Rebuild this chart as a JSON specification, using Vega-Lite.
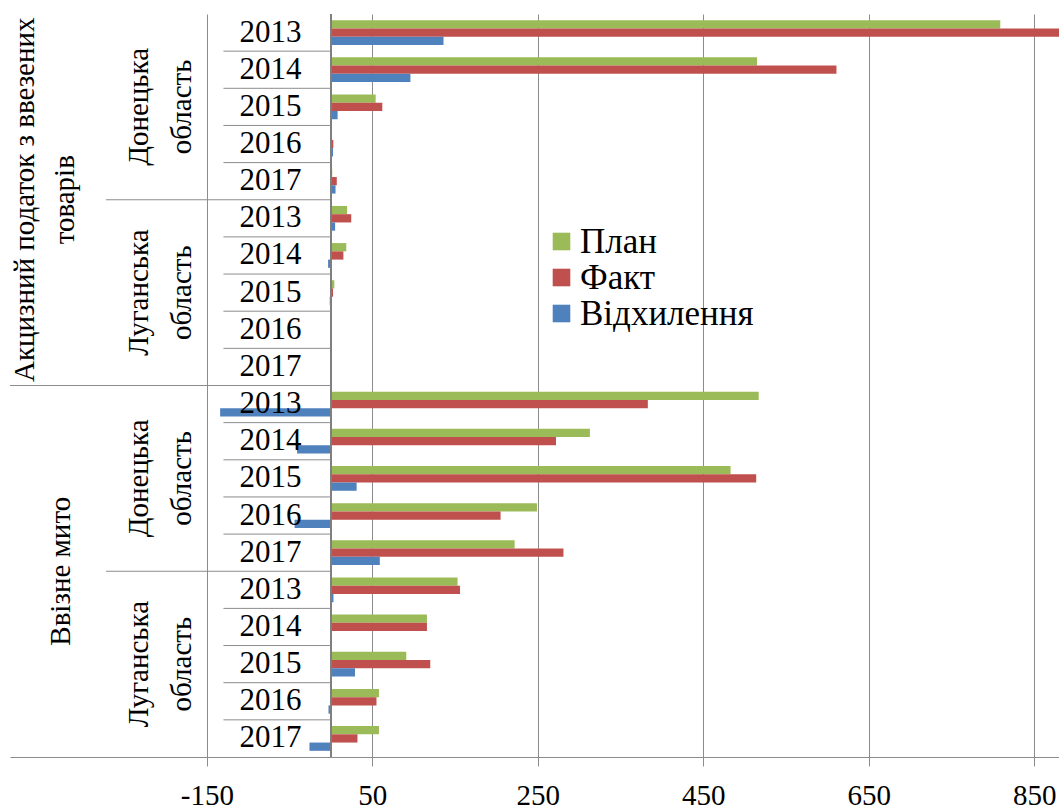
{
  "$schema": "https://vega.github.io/schema/vega-lite/v6.json",
  "width": 1049,
  "height": 743,
  "padding": {"left": 10, "top": 14, "right": 0, "bottom": 52},
  "autosize": {"type": "none"},
  "background": "white",
  "config": {"view": {"stroke": null}, "font": "Liberation Serif"},
  "data": {"values": [
    {"tax": "Акцизний податок з ввезених\nтоварів", "region": "Донецька область", "year": "2013", "key": "АП-Д-2013", "План": 809, "Факт": 945, "Відхилення": 136},
    {"tax": "Акцизний податок з ввезених\nтоварів", "region": "Донецька область", "year": "2014", "key": "АП-Д-2014", "План": 515, "Факт": 611, "Відхилення": 96},
    {"tax": "Акцизний податок з ввезених\nтоварів", "region": "Донецька область", "year": "2015", "key": "АП-Д-2015", "План": 54, "Факт": 62, "Відхилення": 8},
    {"tax": "Акцизний податок з ввезених\nтоварів", "region": "Донецька область", "year": "2016", "key": "АП-Д-2016", "План": 0.3, "Факт": 2.8, "Відхилення": 2.5},
    {"tax": "Акцизний податок з ввезених\nтоварів", "region": "Донецька область", "year": "2017", "key": "АП-Д-2017", "План": 1.5, "Факт": 7, "Відхилення": 5.5},
    {"tax": "Акцизний податок з ввезених\nтоварів", "region": "Луганська область", "year": "2013", "key": "АП-Л-2013", "План": 19.5, "Факт": 24.5, "Відхилення": 5},
    {"tax": "Акцизний податок з ввезених\nтоварів", "region": "Луганська область", "year": "2014", "key": "АП-Л-2014", "План": 18.5, "Факт": 15, "Відхилення": -3.5},
    {"tax": "Акцизний податок з ввезених\nтоварів", "region": "Луганська область", "year": "2015", "key": "АП-Л-2015", "План": 4, "Факт": 2.5, "Відхилення": -1.5},
    {"tax": "Акцизний податок з ввезених\nтоварів", "region": "Луганська область", "year": "2016", "key": "АП-Л-2016", "План": 0, "Факт": 0, "Відхилення": 0},
    {"tax": "Акцизний податок з ввезених\nтоварів", "region": "Луганська область", "year": "2017", "key": "АП-Л-2017", "План": 0, "Факт": 0, "Відхилення": 0},
    {"tax": "Ввізне мито", "region": "Донецька область", "year": "2013", "key": "ВМ-Д-2013", "План": 517, "Факт": 383, "Відхилення": -134},
    {"tax": "Ввізне мито", "region": "Донецька область", "year": "2014", "key": "ВМ-Д-2014", "План": 313, "Факт": 272, "Відхилення": -41},
    {"tax": "Ввізне мито", "region": "Донецька область", "year": "2015", "key": "ВМ-Д-2015", "План": 483, "Факт": 514, "Відхилення": 31},
    {"tax": "Ввізне мито", "region": "Донецька область", "year": "2016", "key": "ВМ-Д-2016", "План": 249, "Факт": 205, "Відхилення": -44},
    {"tax": "Ввізне мито", "region": "Донецька область", "year": "2017", "key": "ВМ-Д-2017", "План": 222, "Факт": 281, "Відхилення": 59},
    {"tax": "Ввізне мито", "region": "Луганська область", "year": "2013", "key": "ВМ-Л-2013", "План": 153, "Факт": 156, "Відхилення": 3},
    {"tax": "Ввізне мито", "region": "Луганська область", "year": "2014", "key": "ВМ-Л-2014", "План": 116, "Факт": 116, "Відхилення": 0},
    {"tax": "Ввізне мито", "region": "Луганська область", "year": "2015", "key": "ВМ-Л-2015", "План": 91, "Факт": 120, "Відхилення": 29},
    {"tax": "Ввізне мито", "region": "Луганська область", "year": "2016", "key": "ВМ-Л-2016", "План": 58, "Факт": 55, "Відхилення": -3},
    {"tax": "Ввізне мито", "region": "Луганська область", "year": "2017", "key": "ВМ-Л-2017", "План": 58, "Факт": 32, "Відхилення": -26}
  ]},
  "layer": [
    {
      "transform": [{"fold": ["План", "Факт", "Відхилення"], "as": ["series", "value"]}],
      "mark": {"type": "bar", "clip": true},
      "encoding": {
        "y": {"field": "key", "type": "nominal", "axis": null,
          "scale": {"domain": ["АП-Д-2013","АП-Д-2014","АП-Д-2015","АП-Д-2016","АП-Д-2017","АП-Л-2013","АП-Л-2014","АП-Л-2015","АП-Л-2016","АП-Л-2017","ВМ-Д-2013","ВМ-Д-2014","ВМ-Д-2015","ВМ-Д-2016","ВМ-Д-2017","ВМ-Л-2013","ВМ-Л-2014","ВМ-Л-2015","ВМ-Л-2016","ВМ-Л-2017"], "paddingInner": 0, "paddingOuter": 0}},
        "yOffset": {"field": "series", "type": "nominal", "scale": {"domain": ["План", "Факт", "Відхилення"], "paddingInner": 0, "paddingOuter": 0.75}},
        "x": {"field": "value", "type": "quantitative", "stack": null,
          "scale": {"domain": [-388, 880], "nice": false, "zero": false},
          "axis": {"values": [-150, 50, 250, 450, 650, 850], "grid": true, "gridColor": "#8c8c8c", "gridOpacity": 1, "domainColor": "#8c8c8c", "tickColor": "#8c8c8c", "tickSize": 9, "labelFont": "Liberation Serif", "labelFontSize": 29, "labelColor": "#000000", "labelPadding": 15, "labelFlush": false, "labelOverlap": false, "title": null, "labelExpr": "'' + datum.value"}},
        "color": {"field": "series", "type": "nominal",
          "scale": {"domain": ["План", "Факт", "Відхилення"], "range": ["#9BBB59", "#C0504D", "#4F81BD"]},
          "legend": {"orient": "none", "legendX": 534, "legendY": 210, "title": null, "symbolType": "square", "symbolSize": 310, "symbolStrokeWidth": 0, "labelFont": "Liberation Serif", "labelFontSize": 35, "labelOffset": 1, "labelLimit": 0, "rowPadding": 0, "labelColor": "#000000", "padding": 0}}
      }
    },
    {
      "mark": {"type": "rule", "color": "#7f7f7f", "strokeWidth": 1.5},
      "encoding": {"x": {"datum": 0, "type": "quantitative"}}
    },
    {
      "transform": [{"filter": "datum.year != '2013'"}],
      "mark": {"type": "rule", "color": "#8c8c8c", "strokeWidth": 1},
      "encoding": {
        "y": {"field": "key", "type": "nominal", "bandPosition": 0, "axis": null},
        "x": {"datum": -130, "type": "quantitative"},
        "x2": {"datum": 0}
      }
    },
    {
      "transform": [{"filter": "datum.year == '2013' && datum.region == 'Луганська область'"}],
      "mark": {"type": "rule", "color": "#8c8c8c", "strokeWidth": 1},
      "encoding": {
        "y": {"field": "key", "type": "nominal", "bandPosition": 0, "axis": null},
        "x": {"datum": -272, "type": "quantitative"},
        "x2": {"datum": 0}
      }
    },
    {
      "transform": [{"filter": "datum.key == 'ВМ-Д-2013'"}],
      "mark": {"type": "rule", "color": "#8c8c8c", "strokeWidth": 1},
      "encoding": {
        "y": {"field": "key", "type": "nominal", "bandPosition": 0, "axis": null},
        "x": {"datum": -388, "type": "quantitative"},
        "x2": {"datum": 0}
      }
    },
    {
      "mark": {"type": "text", "font": "Liberation Serif", "fontSize": 31, "color": "#000000", "align": "center", "baseline": "middle"},
      "encoding": {
        "y": {"field": "key", "type": "nominal", "axis": null},
        "x": {"datum": -73, "type": "quantitative"},
        "text": {"field": "year"}
      }
    },
    {
      "transform": [{"filter": "datum.year == '2015'"}],
      "mark": {"type": "text", "font": "Liberation Serif", "fontSize": 29, "color": "#000000", "align": "center", "baseline": "middle", "angle": 270, "lineBreak": " ", "lineHeight": 43},
      "encoding": {
        "y": {"field": "key", "type": "nominal", "axis": null},
        "x": {"datum": -232, "type": "quantitative"},
        "text": {"field": "region"}
      }
    },
    {
      "transform": [{"filter": "datum.key == 'АП-Л-2013'"}],
      "mark": {"type": "text", "font": "Liberation Serif", "fontSize": 29, "color": "#000000", "align": "center", "baseline": "middle", "angle": 270, "lineBreak": "\n", "lineHeight": 40},
      "encoding": {
        "y": {"field": "key", "type": "nominal", "bandPosition": 0, "axis": null},
        "x": {"datum": -370, "type": "quantitative"},
        "text": {"field": "tax"}
      }
    },
    {
      "transform": [{"filter": "datum.key == 'ВМ-Л-2013'"}],
      "mark": {"type": "text", "font": "Liberation Serif", "fontSize": 29, "color": "#000000", "align": "center", "baseline": "middle", "angle": 270},
      "encoding": {
        "y": {"field": "key", "type": "nominal", "bandPosition": 0, "axis": null},
        "x": {"datum": -326, "type": "quantitative"},
        "text": {"field": "tax"}
      }
    }
  ]
}
